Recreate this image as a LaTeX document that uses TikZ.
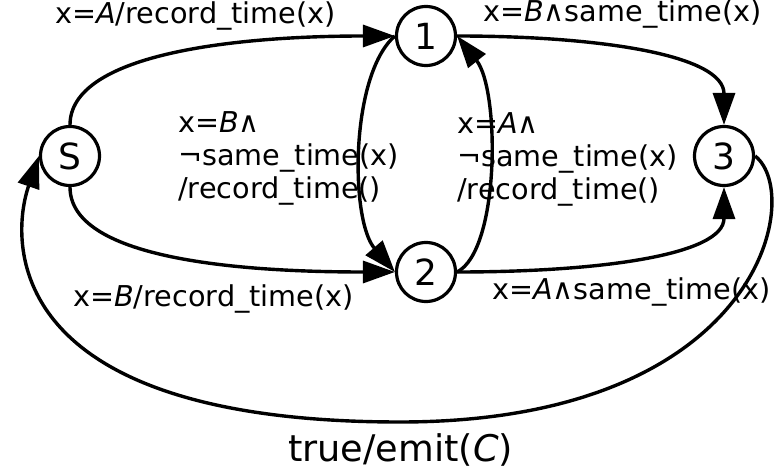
\documentclass[tikz,border=0pt]{standalone}
\usepackage{fontspec}
\setmainfont{DejaVu Sans}
\usetikzlibrary{arrows.meta}
\begin{document}
\begin{tikzpicture}[x=1pt,y=-1pt,
  state/.style={circle,draw,line width=3.2pt,minimum size=59pt,inner sep=0pt,font=\fontsize{36}{40}\selectfont},
  lbl/.style={anchor=base west,inner sep=0pt,font=\fontsize{28.7}{33}\selectfont},
  biglbl/.style={anchor=base west,inner sep=0pt,font=\fontsize{36.7}{42}\selectfont},
  edge/.style={line width=3.4pt,-{Triangle[length=32pt,width=22pt]}}]
\useasboundingbox (0,0) rectangle (774,470);
\node[state] (S) at (70,156) {S};
\node[state] (n1) at (426,36) {1};
\node[state] (n2) at (426,272) {2};
\node[state] (n3) at (724,156) {3};
\coordinate (bot) at (400,422);
\draw[edge] (S.north) .. controls (70,55) and (230,36) .. (n1.west);
\draw[edge] (S.south) .. controls (70,257) and (230,272) .. (n2.west);
\draw[edge] (n1.west) .. controls (350,75) and (350,220) .. (n2.west);
\draw[edge] (n2.east) .. controls (500,250) and (500,90) .. (n1.east);
\draw[edge] (n1.east) .. controls (600,36) and (724,55) .. (n3.north);
\draw[edge] (n2.east) .. controls (600,272) and (724,255) .. (n3.south);
\draw[edge] (n3.east) .. controls (805,195) and (760,422) .. (bot) .. controls (0,422) and (10,240) .. (S.west);
\node[lbl] (l1) at (55,23.5) {x=\textit{A}/record\_time(x)};
\node[lbl] (l2) at (483,22) {x=\textit{B}∧same\_time(x)};
\node[lbl,align=left] (l3) at (178,199) {x=\textit{B}∧\\¬same\_time(x)\\/record\_time()};
\node[lbl,align=left] (l4) at (457,200) {x=\textit{A}∧\\¬same\_time(x)\\/record\_time()};
\node[lbl] (l5) at (73,307) {x=\textit{B}/record\_time(x)};
\node[lbl] (l6) at (492,300) {x=\textit{A}∧same\_time(x)};
\node[biglbl] (l7) at (288,461) {true/emit(\textit{C})};
\end{tikzpicture}
\end{document}
